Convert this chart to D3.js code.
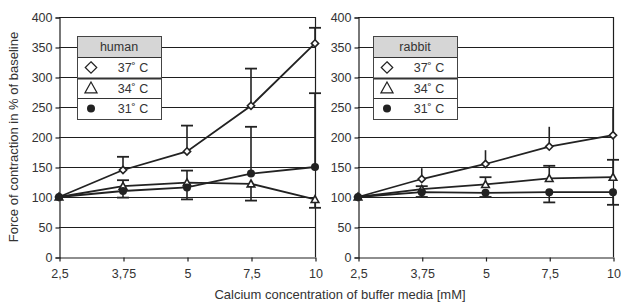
<!DOCTYPE html>
<html>
<head>
<meta charset="utf-8">
<script src="https://cdn.jsdelivr.net/npm/d3@7"></script>
<style>
  body { margin: 0; background: #fff; }
  svg text { font-family: "Liberation Sans", Arial, sans-serif; fill: #333; }
</style>
</head>
<body>
<div id="chart"></div>
<script>
// categories and tick labels
const concentrations = ["2,5", "3,75", "5", "7,5", "10"];
const yTicks = [0, 50, 100, 150, 200, 250, 300, 350, 400];
const tempLabels = ["37˚ C", "34˚ C", "31˚ C"];

// human series (% of baseline)
const human37 = [100, 145, 176, 252, 356];
const human34 = [100, 118, 124, 122, 96];
const human31 = [100, 110, 116, 139, 150];
// error bar ends (null = not drawn)
const human37Hi = [null, 167, 219, 314, 382];
const human37Lo = [null, null, null, null, null];
const human34Hi = [null, 128, 144, null, null];
const human34Lo = [null, null, null, 94, 82];
const human31Hi = [null, null, null, 217, 273];
const human31Lo = [null, 99, 96, null, null];

// rabbit series
const rabbit37 = [100, 130, 155, 184, 203];
const rabbit34 = [100, 113, 121, 131, 133];
const rabbit31 = [100, 108, 107, 108, 108];
const rabbit37Hi = [null, 148, 178, 217, 248];
const rabbit37Lo = [null, null, null, null, null];
const rabbit34Hi = [null, 118, 133, 152, 162];
const rabbit34Lo = [null, null, null, null, null];
const rabbit31Hi = [null, null, null, null, null];
const rabbit31Lo = [null, 100, 100, 91, 87];

const W = 621, H = 304;
const svg = d3.select("#chart").append("svg")
    .attr("width", W)
    .attr("height", H);

const ink = "#222";
const gridInk = "#1e1e1e";

const y = d3.scaleLinear().domain([0, 400]).range([257, 17]);

const panels = [
    {
        name: "human", x0: 59, x1: 315, legendX: 77, caps: [true, true, true],
        series: [
            { values: human37, hi: human37Hi, lo: human37Lo, shape: "diamond" },
            { values: human34, hi: human34Hi, lo: human34Lo, shape: "triangle" },
            { values: human31, hi: human31Hi, lo: human31Lo, shape: "circle" }
        ]
    },
    {
        name: "rabbit", x0: 358, x1: 613, legendX: 373, caps: [false, true, true],
        series: [
            { values: rabbit37, hi: rabbit37Hi, lo: rabbit37Lo, shape: "diamond" },
            { values: rabbit34, hi: rabbit34Hi, lo: rabbit34Lo, shape: "triangle" },
            { values: rabbit31, hi: rabbit31Hi, lo: rabbit31Lo, shape: "circle" }
        ]
    }
];

function drawMarker(g, shape, cx, cy, big) {
    const s = big ? 1.6 : 1;
    if (shape === "diamond") {
        const r = 3.6 * s;
        g.append("path")
            .attr("d", `M${cx},${cy - r}L${cx + r},${cy}L${cx},${cy + r}L${cx - r},${cy}Z`)
            .attr("fill", "#fff").attr("stroke", ink).attr("stroke-width", big ? 1.2 : 1.6);
    } else if (shape === "triangle") {
        const r = 3.8 * s;
        g.append("path")
            .attr("d", `M${cx},${cy - r}L${cx + r},${cy + r * 0.8}L${cx - r},${cy + r * 0.8}Z`)
            .attr("fill", "#fff").attr("stroke", ink).attr("stroke-width", big ? 1.2 : 1.6);
    } else {
        g.append("circle")
            .attr("cx", cx).attr("cy", cy).attr("r", 4)
            .attr("fill", ink);
    }
}

panels.forEach(p => {
    const x = d3.scalePoint().domain(concentrations).range([p.x0, p.x1]);
    const g = svg.append("g");

    // gridlines
    g.selectAll(".grid")
        .data(yTicks.filter(d => d > 0))
        .enter()
        .append("line")
        .attr("x1", p.x0).attr("x2", p.x1)
        .attr("y1", d => y(d) + 0.5).attr("y2", d => y(d) + 0.5)
        .attr("stroke", gridInk).attr("stroke-width", 1.2);

    // right frame
    g.append("line")
        .attr("x1", p.x1 + 0.5).attr("x2", p.x1 + 0.5)
        .attr("y1", y(400)).attr("y2", y(0))
        .attr("stroke", gridInk).attr("stroke-width", 1.2);

    // axes
    g.append("g")
        .attr("transform", `translate(${p.x0 + 0.5},0.5)`)
        .call(d3.axisLeft(y).tickValues(yTicks).tickSize(4).tickPadding(3))
        .call(a => a.selectAll("text").attr("font-size", 12.5))
        .call(a => a.selectAll("line,path").attr("stroke", gridInk).attr("stroke-width", 1.2));

    g.append("g")
        .attr("transform", `translate(0.5,${y(0) + 0.5})`)
        .call(d3.axisBottom(x).tickSize(4).tickSizeOuter(0).tickPadding(8))
        .call(a => a.selectAll("text").attr("font-size", 12.5))
        .call(a => a.selectAll("line,path").attr("stroke", gridInk).attr("stroke-width", 1.2));

    // error bars
    p.series.forEach((s, si) => {
        s.values.forEach((v, i) => {
            const cx = x(concentrations[i]);
            [s.hi[i], s.lo[i]].forEach(end => {
                if (end === null) return;
                g.append("line")
                    .attr("x1", cx).attr("x2", cx)
                    .attr("y1", y(v)).attr("y2", y(end))
                    .attr("stroke", ink).attr("stroke-width", 1.6);
                if (p.caps[si]) {
                    g.append("line")
                        .attr("x1", cx - 6).attr("x2", cx + 6)
                        .attr("y1", y(end)).attr("y2", y(end))
                        .attr("stroke", ink).attr("stroke-width", 1.8);
                }
            });
        });
    });

    // lines
    const line = d3.line()
        .x((d, i) => x(concentrations[i]))
        .y(d => y(d));

    p.series.forEach(s => {
        g.append("path")
            .datum(s.values)
            .attr("d", line)
            .attr("fill", "none")
            .attr("stroke", ink)
            .attr("stroke-width", 1.8);
    });

    // markers
    p.series.forEach(s => {
        s.values.forEach((v, i) => drawMarker(g, s.shape, x(concentrations[i]), y(v), false));
    });

    // legend
    const lx = p.legendX, lw = 84;
    const rows = [36, 57, 78, 98, 119];
    const lg = svg.append("g");
    lg.append("rect")
        .attr("x", lx).attr("y", rows[0])
        .attr("width", lw).attr("height", rows[4] - rows[0])
        .attr("fill", "#fff");
    lg.append("rect")
        .attr("x", lx).attr("y", rows[0])
        .attr("width", lw).attr("height", rows[1] - rows[0])
        .attr("fill", "#d6d6d6");
    lg.append("text")
        .attr("x", lx + lw / 2).attr("y", (rows[0] + rows[1]) / 2 + 4.5)
        .attr("text-anchor", "middle")
        .attr("font-size", 12.5)
        .text(p.name);
    tempLabels.forEach((t, i) => {
        const cy = (rows[i + 1] + rows[i + 2]) / 2;
        drawMarker(lg, p.series[i].shape, lx + 14, cy, true);
        lg.append("text")
            .attr("x", lx + 56).attr("y", cy + 4.5)
            .attr("text-anchor", "middle")
            .attr("font-size", 12.5)
            .text(t);
    });
    rows.slice(1, 4).forEach((r, i) => {
        lg.append("line")
            .attr("x1", lx).attr("x2", lx + lw)
            .attr("y1", r + 0.5).attr("y2", r + 0.5)
            .attr("stroke", "#333").attr("stroke-width", i === 1 ? 1.8 : 1);
    });
    lg.append("rect")
        .attr("x", lx + 0.5).attr("y", rows[0] + 0.5)
        .attr("width", lw).attr("height", rows[4] - rows[0])
        .attr("fill", "none").attr("stroke", "#444").attr("stroke-width", 1);
});

// axis titles
svg.append("text")
    .attr("transform", "translate(18,137) rotate(-90)")
    .attr("text-anchor", "middle")
    .attr("font-size", 13)
    .text("Force of contraction in % of baseline");

svg.append("text")
    .attr("x", 340).attr("y", 299)
    .attr("text-anchor", "middle")
    .attr("font-size", 13)
    .text("Calcium concentration of buffer media [mM]");
</script>
</body>
</html>
